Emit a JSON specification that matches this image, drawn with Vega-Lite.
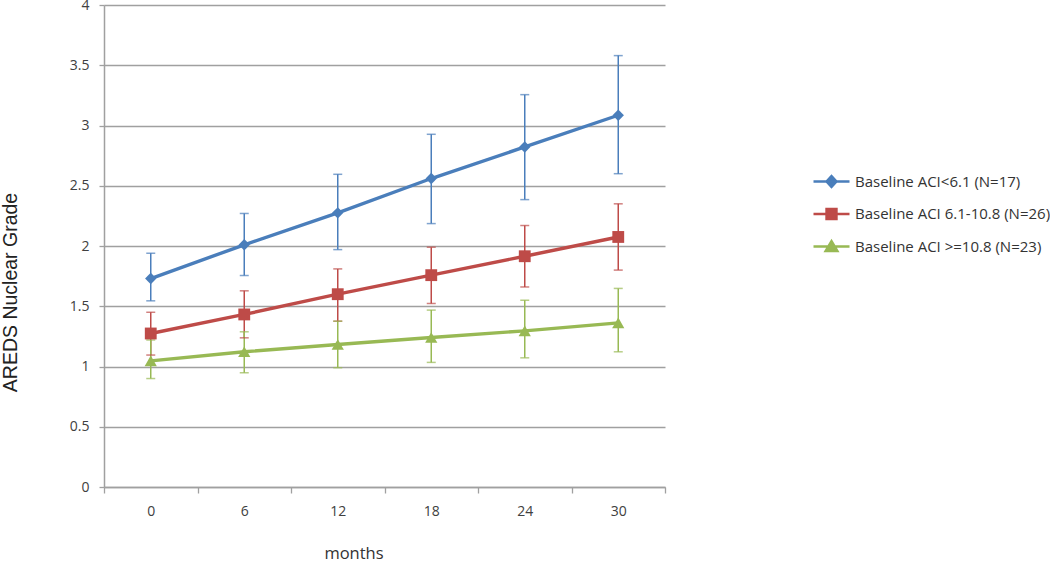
{
  "$schema": "https://vega.github.io/schema/vega-lite/v6.json",
  "width": 561,
  "height": 482,
  "autosize": {"type": "none"},
  "padding": {"left": 104, "top": 5, "right": 385, "bottom": 77},
  "background": "white",
  "config": {
    "view": {"stroke": null},
    "axis": {
      "labelFont": "Open Sans",
      "labelFontSize": 14,
      "labelColor": "#404040",
      "domainColor": "#a0a0a0",
      "tickColor": "#a0a0a0",
      "domainWidth": 1.5,
      "tickWidth": 1.3
    }
  },
  "data": {
    "values": [
      {"month": "0", "group": "Baseline ACI<6.1 (N=17)", "mean": 1.73, "lo": 1.545, "hi": 1.94},
      {"month": "6", "group": "Baseline ACI<6.1 (N=17)", "mean": 2.01, "lo": 1.755, "hi": 2.27},
      {"month": "12", "group": "Baseline ACI<6.1 (N=17)", "mean": 2.275, "lo": 1.97, "hi": 2.595},
      {"month": "18", "group": "Baseline ACI<6.1 (N=17)", "mean": 2.56, "lo": 2.186, "hi": 2.927},
      {"month": "24", "group": "Baseline ACI<6.1 (N=17)", "mean": 2.822, "lo": 2.385, "hi": 3.256},
      {"month": "30", "group": "Baseline ACI<6.1 (N=17)", "mean": 3.085, "lo": 2.6, "hi": 3.58},
      {"month": "0", "group": "Baseline ACI 6.1-10.8 (N=26)", "mean": 1.274, "lo": 1.095, "hi": 1.45},
      {"month": "6", "group": "Baseline ACI 6.1-10.8 (N=26)", "mean": 1.432, "lo": 1.238, "hi": 1.628},
      {"month": "12", "group": "Baseline ACI 6.1-10.8 (N=26)", "mean": 1.6, "lo": 1.376, "hi": 1.81},
      {"month": "18", "group": "Baseline ACI 6.1-10.8 (N=26)", "mean": 1.758, "lo": 1.523, "hi": 1.99},
      {"month": "24", "group": "Baseline ACI 6.1-10.8 (N=26)", "mean": 1.915, "lo": 1.66, "hi": 2.17},
      {"month": "30", "group": "Baseline ACI 6.1-10.8 (N=26)", "mean": 2.075, "lo": 1.8, "hi": 2.35},
      {"month": "0", "group": "Baseline ACI >=10.8 (N=23)", "mean": 1.047, "lo": 0.9, "hi": 1.22},
      {"month": "6", "group": "Baseline ACI >=10.8 (N=23)", "mean": 1.122, "lo": 0.948, "hi": 1.288},
      {"month": "12", "group": "Baseline ACI >=10.8 (N=23)", "mean": 1.183, "lo": 0.99, "hi": 1.376},
      {"month": "18", "group": "Baseline ACI >=10.8 (N=23)", "mean": 1.241, "lo": 1.034, "hi": 1.468},
      {"month": "24", "group": "Baseline ACI >=10.8 (N=23)", "mean": 1.296, "lo": 1.072, "hi": 1.55},
      {"month": "30", "group": "Baseline ACI >=10.8 (N=23)", "mean": 1.362, "lo": 1.122, "hi": 1.648}
    ]
  },
  "encoding": {
    "x": {
      "field": "month",
      "type": "ordinal",
      "sort": ["0", "6", "12", "18", "24", "30"],
      "scale": {"type": "band", "paddingInner": 0, "paddingOuter": 0},
      "axis": {
        "title": "months",
        "titleFont": "Open Sans",
        "titleFontSize": 16.5,
        "titleFontWeight": "normal",
        "titleColor": "#333333",
        "titleX": 249.5,
        "titleY": 71,
        "titleBaseline": "alphabetic",
        "labelAngle": 0,
        "tickBand": "extent",
        "tickSize": 6,
        "labelPadding": 11,
        "grid": false
      }
    },
    "color": {
      "field": "group",
      "type": "nominal",
      "scale": {
        "domain": ["Baseline ACI<6.1 (N=17)", "Baseline ACI 6.1-10.8 (N=26)", "Baseline ACI >=10.8 (N=23)"],
        "range": ["#4a7ebb", "#be4b48", "#98b954"]
      },
      "legend": {
        "title": null,
        "orient": "none",
        "legendX": 717,
        "legendY": 166,
        "padding": 0,
        "symbolSize": 324,
        "symbolStrokeWidth": 2.5,
        "labelOffset": 13,
        "labelLimit": 300,
        "labelFont": "Open Sans",
        "labelFontSize": 15,
        "labelColor": "#333333",
        "rowPadding": 11.5,
        "encode": {
          "symbols": {
            "update": {
              "shape": {"signal": "datum.value === 'Baseline ACI<6.1 (N=17)' ? 'M-2,0H2M0,-0.6L0.55,0L0,0.6L-0.55,0Z' : datum.value === 'Baseline ACI 6.1-10.8 (N=26)' ? 'M-2,0H2M-0.55,-0.55H0.55V0.55H-0.55Z' : 'M-2,0H2M0,-0.6L0.65,0.5H-0.65Z'"},
              "fill": {"signal": "scale('color', datum.value)"},
              "stroke": {"signal": "scale('color', datum.value)"},
              "strokeWidth": {"value": 2.5},
              "opacity": {"value": 1}
            }
          }
        }
      }
    }
  },
  "layer": [
    {
      "mark": {"type": "rule", "strokeWidth": 1.5},
      "encoding": {
        "y": {"field": "lo", "type": "quantitative"},
        "y2": {"field": "hi"}
      }
    },
    {
      "mark": {"type": "tick", "size": 9, "thickness": 1.5},
      "encoding": {
        "y": {"field": "lo", "type": "quantitative"}
      }
    },
    {
      "mark": {"type": "tick", "size": 9, "thickness": 1.5},
      "encoding": {
        "y": {"field": "hi", "type": "quantitative"}
      }
    },
    {
      "mark": {"type": "line", "strokeWidth": 3.4},
      "encoding": {
        "y": {
          "field": "mean",
          "type": "quantitative",
          "scale": {"domain": [0, 4], "nice": false},
          "axis": {
            "title": "AREDS Nuclear Grade",
            "titleFont": "Liberation Sans",
            "titleFontSize": 19.5,
            "titleFontWeight": "normal",
            "titleColor": "#222222",
            "titleX": -94,
            "titleY": 287,
            "titleAngle": -90,
            "titleAlign": "center",
            "titleBaseline": "middle",
            "values": [0, 0.5, 1, 1.5, 2, 2.5, 3, 3.5, 4],
            "labelExpr": "datum.value",
            "tickSize": 5,
            "labelPadding": 10,
            "grid": true,
            "gridColor": "#a0a0a0",
            "gridWidth": 1.5
          }
        }
      }
    },
    {
      "transform": [{"filter": "datum.group === 'Baseline ACI<6.1 (N=17)'"}],
      "mark": {"type": "point", "filled": true, "opacity": 1, "shape": "diamond", "size": 130},
      "encoding": {"y": {"field": "mean", "type": "quantitative"}}
    },
    {
      "transform": [{"filter": "datum.group === 'Baseline ACI 6.1-10.8 (N=26)'"}],
      "mark": {"type": "point", "filled": true, "opacity": 1, "shape": "square", "size": 140},
      "encoding": {"y": {"field": "mean", "type": "quantitative"}}
    },
    {
      "transform": [{"filter": "datum.group === 'Baseline ACI >=10.8 (N=23)'"}],
      "mark": {"type": "point", "filled": true, "opacity": 1, "shape": "triangle-up", "size": 150},
      "encoding": {"y": {"field": "mean", "type": "quantitative"}}
    }
  ]
}
